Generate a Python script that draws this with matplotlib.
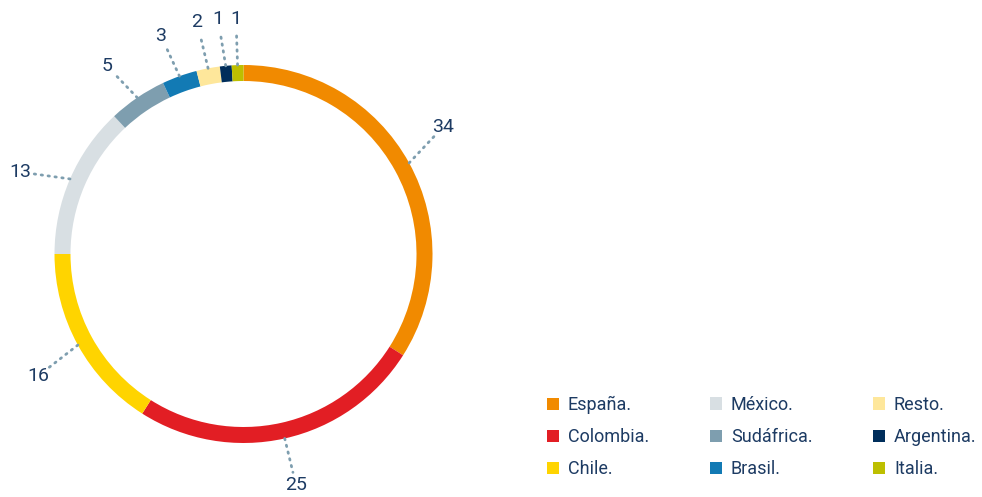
import matplotlib
matplotlib.use('Agg')
import numpy as np
import matplotlib.pyplot as plt
from matplotlib.patches import Patch

plt.rcParams['font.family'] = ['Roboto', 'DejaVu Sans']

countries = ['España.', 'Colombia.', 'Chile.', 'México.', 'Sudáfrica.',
             'Brasil.', 'Resto.', 'Argentina.', 'Italia.']
values = [34, 25, 16, 13, 5, 3, 2, 1, 1]
colors = ['#F18A00', '#E21E24', '#FFD400', '#D8DFE3', '#7E9EAF',
          '#127AB4', '#FEE79B', '#002E5B', '#BDBF00']
# label text centres, picture pixels (x right, y down)
label_pos = [(443, 127), (296, 485), (38, 376), (20, 172), (107, 66),
             (161, 36), (197, 22), (218, 19), (236, 19)]

W, H = 982, 497
text_col = '#1D3B63'
dot_col = '#7E9EAF'

fig = plt.figure(figsize=(9.82, 4.97), dpi=100)
ax = fig.add_axes([0, 0, 1, 1])
ax.set_xlim(0, W)
ax.set_ylim(0, H)
ax.axis('off')

cx, cy, r = 243.5, H - 254, 189
ring = 16
wedges, _ = ax.pie(values, colors=colors, startangle=90, counterclock=False,
                   center=(cx, cy), radius=r,
                   wedgeprops=dict(width=ring, linewidth=0))
ax.set_xlim(0, W)
ax.set_ylim(0, H)
ax.set_aspect('equal')

for w, v, (lx, ly) in zip(wedges, values, label_pos):
    ang = np.deg2rad((w.theta1 + w.theta2) / 2)
    x0, y0 = cx + r * np.cos(ang), cy + r * np.sin(ang)
    tx, ty = lx, H - ly
    d = np.hypot(tx - x0, ty - y0)
    f = (d - 13) / d
    x1, y1 = x0 + (tx - x0) * f, y0 + (ty - y0) * f
    ax.plot([x0, x1], [y0, y1], linestyle=(0, (0.5, 2)), color=dot_col,
            linewidth=2, dash_capstyle='round')
    ax.text(tx, ty, str(v), ha='center', va='center', fontsize=14,
            color=text_col)

# legend: three columns of three, placed separately
handles = [Patch(facecolor=c, edgecolor='none') for c in colors]
col_x = [547, 710, 873]
for i, x in enumerate(col_x):
    fig.legend(handles[3 * i:3 * i + 3], countries[3 * i:3 * i + 3],
               loc='center left', bbox_to_anchor=(x / W, 1 - 437 / H),
               frameon=False, fontsize=13, labelcolor=text_col,
               handlelength=0.66, handleheight=0.66, handletextpad=0.5,
               labelspacing=0.78, borderpad=0, borderaxespad=0)

plt.savefig('out.png', dpi=100)
